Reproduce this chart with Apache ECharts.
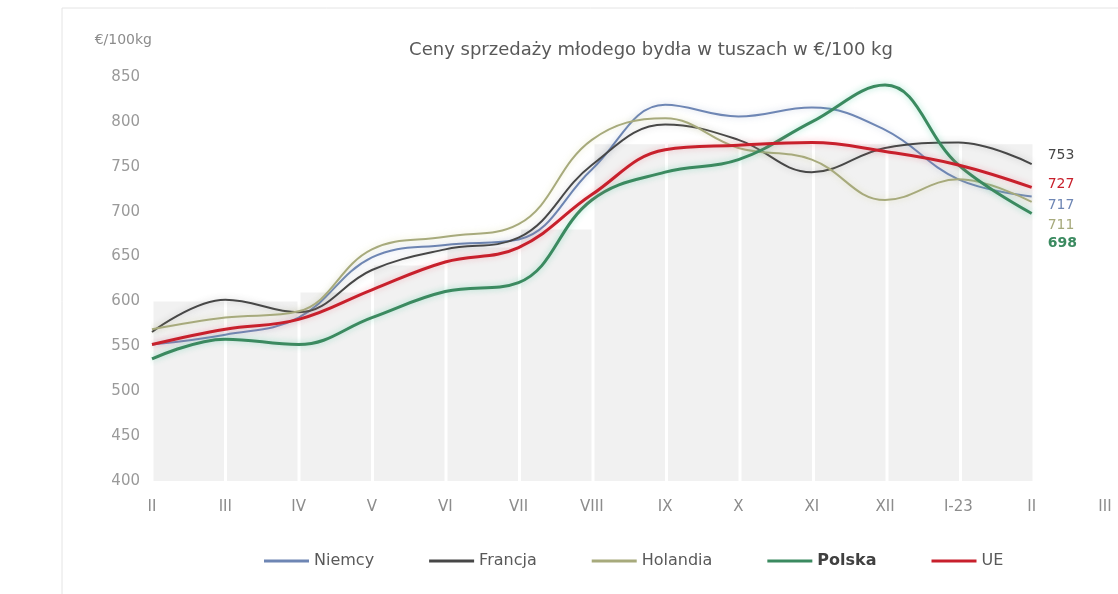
<!DOCTYPE html>
<html>
<head>
<meta charset="utf-8">
<script src="https://cdn.jsdelivr.net/npm/echarts@6/dist/echarts.min.js"></script>
<style>html,body{margin:0;padding:0;background:#fff}#c{width:1118px;height:594px}</style>
</head>
<body>
<div id="c"></div>
<script>
const categories = ['II','III','IV','V','VI','VII','VIII','IX','X','XI','XII','I-23','II','III'];
const niemcy   = [552, 563, 582, 649, 663, 669, 747, 819, 806, 816, 791, 736, 717];
const francja  = [566, 602, 588, 635, 658, 671, 752, 797, 780, 744, 771, 777, 753];
const holandia = [569, 582, 589, 658, 672, 686, 780, 804, 771, 758, 713, 736, 711];
const polska   = [536, 558, 552, 582, 611, 621, 713, 744, 758, 800, 841, 752, 698];
const ue       = [552, 569, 580, 613, 644, 660, 719, 769, 774, 777, 767, 752, 727];
const bgBars   = [600, 600, 610, 640, 660, 680, 775, 775, 775, 775, 775, 775];
const bgCats   = ['1','2','3','4','5','6','7','8','9','10','11','12'];

const font = 'DejaVu Sans';
const chart = echarts.init(document.getElementById('c'), null, {renderer:'canvas'});

function line(name, data, color, width, glow, offY, bold) {
  return {
    name, type:'line', data, smooth:0.4, showSymbol:false, xAxisIndex:0, yAxisIndex:0, z:5,
    lineStyle:{color, width, shadowColor:glow, shadowBlur:6},
    itemStyle:{color},
    endLabel:{show:true, formatter:'{c}', color, fontFamily:font, fontSize:14, distance:16, offset:[0, offY], fontWeight: bold ? 'bold':'normal'}
  };
}

chart.setOption({
  animation:false,
  backgroundColor:'#fff',
  title:{text:'Ceny sprzedaży młodego bydła w tuszach w €/100 kg', left:646, textAlign:'center', top:36,
    textStyle:{fontFamily:font, fontSize:18, fontWeight:'normal', color:'#595959'}},
  graphic:[{type:'rect', shape:{x:62, y:8, width:1060, height:590}, style:{fill:'none', stroke:'#e4e4e4', lineWidth:1}, silent:true}],
  legend:{bottom:20, left:259, itemWidth:45, itemHeight:3, itemGap:55, icon:'rect',
    textStyle:{fontFamily:font, fontSize:16, color:'#595959'},
    data:['Niemcy','Francja','Holandia',{name:'Polska', textStyle:{fontWeight:'bold', color:'#404040'}},'UE']},
  grid:[
    {left:152, right:13, top:77, bottom:113},
    {left:152, right:84, top:77, bottom:113}
  ],
  xAxis:[
    {type:'category', data:categories, boundaryGap:false, gridIndex:0,
      axisLine:{show:false}, axisTick:{show:false}, splitLine:{show:false},
      axisLabel:{fontFamily:font, fontSize:15, color:'#8c8c8c', margin:19}},
    {type:'category', data:bgCats, boundaryGap:true, gridIndex:1, show:false}
  ],
  yAxis:[
    {type:'value', min:400, max:850, interval:50, gridIndex:0,
      name:'€/100kg', nameLocation:'end', nameGap:30, nameTextStyle:{fontFamily:font, fontSize:14, color:'#8c8c8c', align:'right', padding:[0,0,0,0]},
      axisLine:{show:false}, axisTick:{show:false}, splitLine:{show:false},
      axisLabel:{fontFamily:font, fontSize:15, color:'#9a9a9a', margin:12}},
    {type:'value', min:400, max:850, gridIndex:1, show:false, splitLine:{show:false}}
  ],
  series:[
    {name:'tło', type:'bar', data:bgBars, xAxisIndex:1, yAxisIndex:1, barCategoryGap:'4%',
      itemStyle:{color:'#f1f1f1'}, silent:true, z:1},
    line('Niemcy', niemcy, '#6e86b4', 2, 'rgba(110,134,180,0.35)', 9),
    line('Francja', francja, '#474747', 2, 'rgba(70,70,70,0.25)', -9),
    line('Holandia', holandia, '#a7aa7c', 2, 'rgba(200,200,120,0.4)', 24),
    line('Polska', polska, '#3b8a60', 3, 'rgba(60,200,150,0.45)', 30, true),
    line('UE', ue, '#c8202c', 3, 'rgba(240,100,120,0.4)', -3)
  ]
});
</script>
</body>
</html>
